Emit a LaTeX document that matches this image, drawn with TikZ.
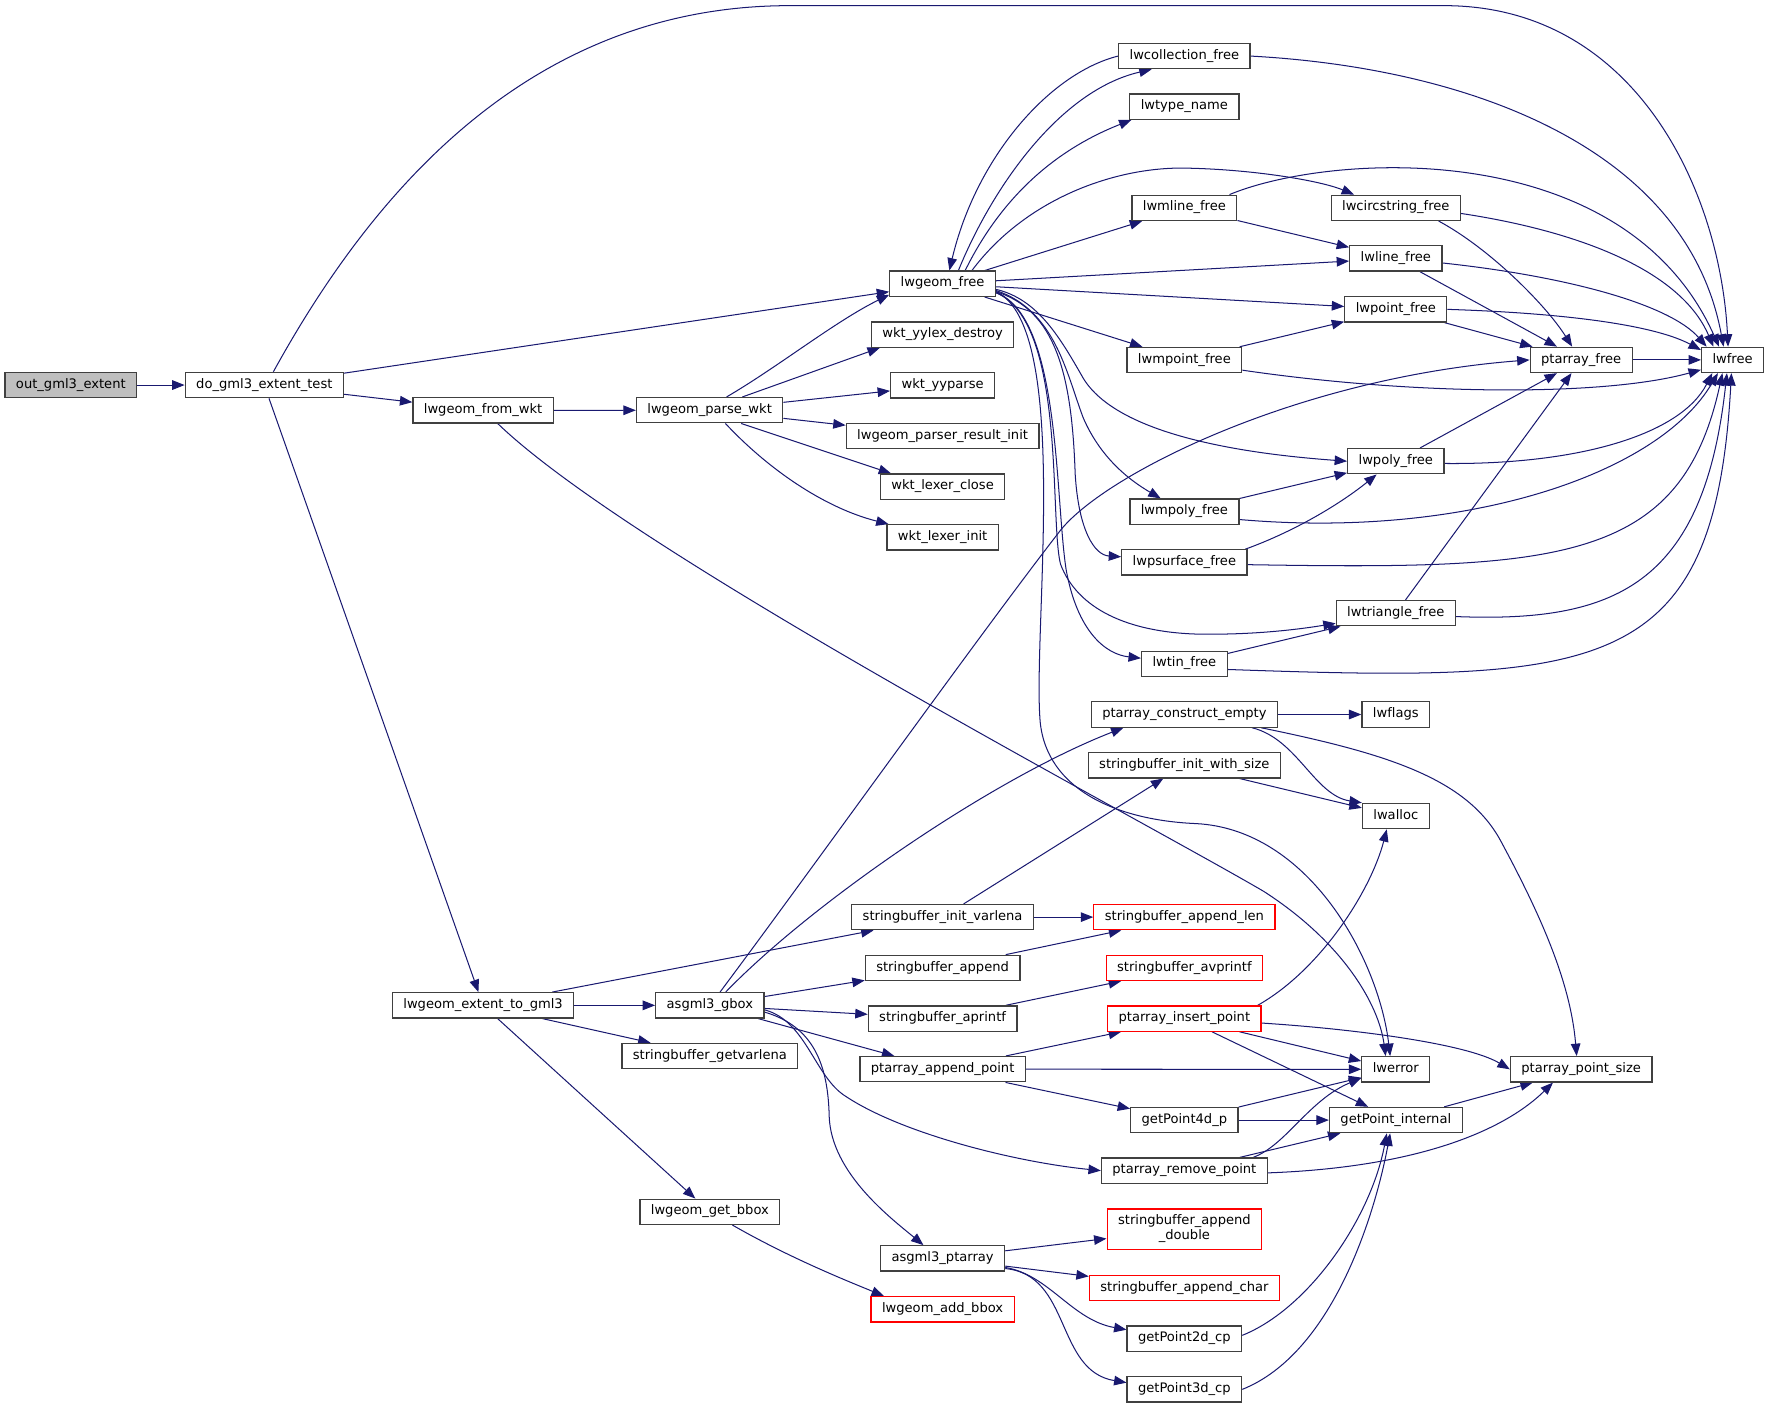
\documentclass[tikz,border=0pt]{standalone}
\usepackage{fontspec}
\setmainfont{DejaVu Sans}[Ligatures=NoCommon]
\usetikzlibrary{arrows.meta,backgrounds}
\definecolor{callblue}{RGB}{25,25,112}
\definecolor{boxline}{RGB}{64,64,64}
\definecolor{rootfill}{RGB}{191,191,191}

\begin{document}
\begin{tikzpicture}[x=1pt,y=-1pt,
  func/.style={draw=boxline,line width=1.1pt,fill=white,inner xsep=9.7pt,inner ysep=0pt,
    minimum height=22.4pt,font=\fontsize{11.6}{13.9}\selectfont,execute at begin node=\strut},
  rootfunc/.style={func,fill=rootfill},
  undoc/.style={func,draw=red},
  call/.style={draw=callblue,line width=0.9pt,-{Triangle[length=11pt,width=8.5pt]}}]
  \useasboundingbox (0,0) rectangle (1568,1248);

  \node[rootfunc] (outext) at (62.8,341.3) {out\_gml3\_extent};
  \node[func] (dotest) at (234.3,341.3) {do\_gml3\_extent\_test};
  \node[func] (fromwkt) at (428.2,363.7) {lwgeom\_from\_wkt};
  \node[func] (parsewkt) at (629,363.6) {lwgeom\_parse\_wkt};
  \node[func] (gfree) at (835.5,251.5) {lwgeom\_free};
  \node[func] (yylexdestroy) at (835.5,296.5) {wkt\_yylex\_destroy};
  \node[func] (yyparse) at (835.5,341.5) {wkt\_yyparse};
  \node[func] (resultinit) at (835.5,386.4) {lwgeom\_parser\_result\_init};
  \node[func] (lexclose) at (835.5,431.4) {wkt\_lexer\_close};
  \node[func] (lexinit) at (835.5,476.3) {wkt\_lexer\_init};
  \node[func] (collfree) at (1049.8,49.7) {lwcollection\_free};
  \node[func] (typename) at (1049.8,94.5) {lwtype\_name};
  \node[func] (mlinefree) at (1049.8,184.2) {lwmline\_free};
  \node[func] (circfree) at (1237.2,184.2) {lwcircstring\_free};
  \node[func] (linefree) at (1237.2,229.1) {lwline\_free};
  \node[func] (pointfree) at (1237.2,274.2) {lwpoint\_free};
  \node[func] (mpointfree) at (1049.8,319.1) {lwmpoint\_free};
  \node[func] (ptfree) at (1401.5,319) {ptarray\_free};
  \node[func] (lwfree) at (1535.7,319) {lwfree};
  \node[func] (polyfree) at (1237.2,408.8) {lwpoly\_free};
  \node[func] (mpolyfree) at (1049.8,453.5) {lwmpoly\_free};
  \node[func] (psurffree) at (1049.8,498.5) {lwpsurface\_free};
  \node[func] (trifree) at (1237.2,543.5) {lwtriangle\_free};
  \node[func] (tinfree) at (1049.8,588.4) {lwtin\_free};
  \node[func] (ptconstruct) at (1049.8,633.3) {ptarray\_construct\_empty};
  \node[func] (lwflags) at (1237.2,633.3) {lwflags};
  \node[func] (sbinitsize) at (1049.8,678.3) {stringbuffer\_init\_with\_size};
  \node[func] (lwalloc) at (1237.2,723.3) {lwalloc};
  \node[func] (sbinitvar) at (835.5,812.9) {stringbuffer\_init\_varlena};
  \node[undoc] (sbappendlen) at (1049.8,812.9) {stringbuffer\_append\_len};
  \node[func] (sbappend) at (835.5,857.9) {stringbuffer\_append};
  \node[undoc] (sbavprintf) at (1049.8,857.9) {stringbuffer\_avprintf};
  \node[func] (exttogml) at (428.2,891.1) {lwgeom\_extent\_to\_gml3};
  \node[func] (gbox) at (629.2,891.1) {asgml3\_gbox};
  \node[func] (sbaprintf) at (835.5,902.8) {stringbuffer\_aprintf};
  \node[undoc] (ptinsert) at (1049.8,902.8) {ptarray\_insert\_point};
  \node[func] (sbgetvar) at (629.2,936) {stringbuffer\_getvarlena};
  \node[func] (ptappend) at (835.5,947.7) {ptarray\_append\_point};
  \node[func] (lwerror) at (1237.2,947.8) {lwerror};
  \node[func] (ptpointsize) at (1401.5,947.8) {ptarray\_point\_size};
  \node[func] (gp4d) at (1049.8,992.8) {getPoint4d\_p};
  \node[func] (gpinternal) at (1237.2,992.8) {getPoint\_internal};
  \node[func] (ptremove) at (1049.8,1037.6) {ptarray\_remove\_point};
  \node[func] (getbbox) at (629.2,1074.1) {lwgeom\_get\_bbox};
  \node[undoc,align=center,minimum height=35.8pt,font=\fontsize{11.6}{12.7}\selectfont] (sbdouble) at (1049.8,1089.5) {stringbuffer\_append\\\_double};
  \node[func] (ptarrgml) at (835.5,1115.4) {asgml3\_ptarray};
  \node[undoc] (sbchar) at (1049.8,1141.7) {stringbuffer\_append\_char};
  \node[undoc] (addbbox) at (835.5,1160.5) {lwgeom\_add\_bbox};
  \node[func] (gp2d) at (1049.8,1186.6) {getPoint2d\_cp};
  \node[func] (gp3d) at (1049.8,1231.5) {getPoint3d\_cp};

  \begin{scope}[on background layer]
  \draw[call] (outext) -- (dotest);
  \draw[call] ([xshift=8pt]dotest.north) .. controls (330,170) and (470,5) .. (700,5) -- (1280,5) .. controls (1450,5) and (1525,170) .. ([xshift=-4pt]lwfree.north);
  \draw[call] (dotest) -- (gfree);
  \draw[call] (dotest) -- (fromwkt);
  \draw[call] (dotest) -- (exttogml);
  \draw[call] (fromwkt) -- (parsewkt);
  \draw[call] ([xshift=13pt]fromwkt.south) .. controls (560,490) and (1000,720) .. (1120,790) .. controls (1190,835) and (1222,890) .. ([xshift=-9pt]lwerror.north);
  \draw[call] ([xshift=15pt]parsewkt.north) .. controls (690,325) and (740,285) .. ([yshift=2pt]gfree.south west);
  \draw[call] ([xshift=29pt]parsewkt.north) -- ([xshift=8pt]yylexdestroy.south west);
  \draw[call] (parsewkt) -- (yyparse);
  \draw[call] (parsewkt) -- (resultinit);
  \draw[call] ([xshift=28pt]parsewkt.south) -- ([xshift=10pt]lexclose.north west);
  \draw[call] ([xshift=14pt]parsewkt.south) .. controls (680,415) and (730,450) .. ([xshift=2pt]lexinit.north west);

  \draw[call] ([xshift=14pt]gfree.north) .. controls (880,165) and (940,80) .. ([xshift=-29pt]collfree.south);
  \draw[call] (collfree.west) .. controls (930,65) and (865,140) .. ([xshift=6pt]gfree.north);
  \draw[call] ([xshift=20pt]gfree.north) .. controls (885,180) and (930,135) .. ([xshift=2pt]typename.south west);
  \draw[call] ([xshift=26pt]gfree.north) .. controls (910,175) and (990,148) .. (1050,149) .. controls (1110,150) and (1170,160) .. ([xshift=-37pt]circfree.north);
  \draw[call] (gfree) -- (mlinefree);
  \draw[call] (gfree) -- (linefree);
  \draw[call] (gfree) -- (pointfree);
  \draw[call] (gfree) -- (mpointfree);
  \draw[call] ([yshift=-5pt]gfree.east) .. controls (920,265) and (940,300) .. (960,335) .. controls (990,385) and (1100,402) .. (polyfree.west);
  \draw[call] ([yshift=-6pt]gfree.east) .. controls (935,275) and (945,330) .. (960,370) .. controls (975,405) and (1000,425) .. ([xshift=-21pt]mpolyfree.north);
  \draw[call] ([yshift=-7pt]gfree.east) .. controls (935,275) and (950,330) .. (953,420) .. controls (956,470) and (970,492) .. ([yshift=5pt]psurffree.west);
  \draw[call] ([yshift=-8pt]gfree.east) .. controls (945,285) and (930,460) .. (940,500) .. controls (955,540) and (1000,560) .. (1060,562) .. controls (1110,563) and (1150,558) .. ([yshift=-9pt]trifree.west);
  \draw[call] ([yshift=-8pt]gfree.east) .. controls (940,280) and (935,440) .. (945,505) .. controls (955,560) and (980,580) .. ([yshift=5pt]tinfree.west);
  \draw[call] ([yshift=-7pt]gfree.east) .. controls (950,290) and (915,560) .. (922,640) .. controls (928,700) and (990,727) .. (1060,730) .. controls (1160,735) and (1222,850) .. ([xshift=-5pt]lwerror.north);

  \draw[call] (collfree.east) .. controls (1300,60) and (1495,130) .. ([xshift=-8pt]lwfree.north);
  \draw[call] ([xshift=40pt]mlinefree.north) .. controls (1180,135) and (1440,120) .. ([xshift=-12pt]lwfree.north);
  \draw[call] (mlinefree) -- (linefree);
  \draw[call] ([yshift=-5pt]circfree.east) .. controls (1400,205) and (1490,240) .. ([xshift=-17pt]lwfree.north);
  \draw[call] ([xshift=38pt]circfree.south) .. controls (1320,220) and (1370,270) .. ([xshift=-8pt]ptfree.north);
  \draw[call] ([yshift=-4pt]linefree.east) .. controls (1390,245) and (1480,270) .. ([xshift=-23pt]lwfree.north);
  \draw[call] (linefree) -- (ptfree);
  \draw[call] (pointfree.east) .. controls (1400,278) and (1470,290) .. ([yshift=-3pt]lwfree.north west);
  \draw[call] (pointfree) -- (ptfree);
  \draw[call] (mpointfree) -- (pointfree);
  \draw[call] ([yshift=-9pt]mpointfree.east) .. controls (1250,350) and (1420,352) .. ([yshift=3pt]lwfree.south west);
  \draw[call] (ptfree) -- (lwfree);
  \draw[call] (polyfree) -- (ptfree);
  \draw[call] ([yshift=-2pt]polyfree.east) .. controls (1400,412) and (1490,385) .. ([xshift=-18pt]lwfree.south);
  \draw[call] (mpolyfree) -- (polyfree);
  \draw[call] ([yshift=-7pt]mpolyfree.east) .. controls (1300,478) and (1470,420) .. ([xshift=-13pt]lwfree.south);
  \draw[call] ([xshift=-2pt]psurffree.north east) .. controls (1150,470) and (1190,445) .. ([xshift=-17pt]polyfree.south);
  \draw[call] ([yshift=-2pt]psurffree.east) .. controls (1380,505) and (1490,500) .. ([xshift=-9pt]lwfree.south);
  \draw[call] (trifree) -- (ptfree);
  \draw[call] ([yshift=-3pt]trifree.east) .. controls (1430,552) and (1510,520) .. ([xshift=-5pt]lwfree.south);
  \draw[call] (tinfree) -- (trifree);
  \draw[call] ([yshift=-5pt]tinfree.east) .. controls (1420,605) and (1520,600) .. ([xshift=-1pt]lwfree.south);

  \draw[call] (exttogml) -- (sbinitvar);
  \draw[call] (exttogml) -- (gbox);
  \draw[call] (exttogml) -- (sbgetvar);
  \draw[call] (exttogml) -- (getbbox);
  \draw[call] ([xshift=9pt]gbox.north) .. controls (720,770) and (870,560) .. (940,470) .. controls (980,420) and (1150,335) .. (ptfree.west);
  \draw[call] ([xshift=14pt]gbox.north) .. controls (720,800) and (880,690) .. ([xshift=-54pt]ptconstruct.south);
  \draw[call] (gbox) -- (sbappend);
  \draw[call] (gbox) -- (sbaprintf);
  \draw[call] (gbox) -- (ptappend);
  \draw[call] ([yshift=-4pt]gbox.east) .. controls (715,905) and (722,955) .. (750,972) .. controls (800,1005) and (900,1030) .. (ptremove.west);
  \draw[call] ([yshift=-6pt]gbox.east) .. controls (722,910) and (734,945) .. (735,990) .. controls (737,1040) and (790,1080) .. ([xshift=-17pt]ptarrgml.north);

  \draw[call] (ptconstruct) -- (lwflags);
  \draw[call] ([xshift=60pt]ptconstruct.south) .. controls (1150,655) and (1165,705) .. (lwalloc.north west);
  \draw[call] ([xshift=68pt]ptconstruct.south) .. controls (1230,668) and (1300,690) .. (1330,745) .. controls (1365,810) and (1392,870) .. ([xshift=-4pt]ptpointsize.north);
  \draw[call] (sbinitsize) -- (lwalloc);
  \draw[call] (sbinitvar) -- (sbinitsize);
  \draw[call] (sbinitvar) -- (sbappendlen);
  \draw[call] (sbappend) -- (sbappendlen);
  \draw[call] (sbaprintf) -- (sbavprintf);
  \draw[call] (ptappend) -- (ptinsert);
  \draw[call] (ptappend) -- (lwerror);
  \draw[call] (ptappend) -- (gp4d);
  \draw[call] ([xshift=65pt]ptinsert.north) .. controls (1170,860) and (1215,790) .. ([xshift=-8pt]lwalloc.south);
  \draw[call] ([yshift=-4pt]ptinsert.east) .. controls (1200,912) and (1300,925) .. (ptpointsize.west);
  \draw[call] (ptinsert) -- (lwerror);
  \draw[call] (ptinsert) -- (gpinternal);
  \draw[call] (gp4d) -- (lwerror);
  \draw[call] (gp4d) -- (gpinternal);
  \draw[call] (gpinternal) -- (ptpointsize);
  \draw[call] ([xshift=61pt]ptremove.north) .. controls (1140,1015) and (1160,975) .. ([yshift=4pt]lwerror.south west);
  \draw[call] (ptremove) -- (gpinternal);
  \draw[call] ([yshift=-2pt]ptremove.east) .. controls (1250,1035) and (1330,1005) .. ([xshift=-25pt]ptpointsize.south);
  \draw[call] ([xshift=20pt]getbbox.south) .. controls (700,1115) and (750,1135) .. ([xshift=-52pt]addbbox.north);
  \draw[call] (ptarrgml) -- (sbdouble);
  \draw[call] (ptarrgml) -- (sbchar);
  \draw[call] ([yshift=-8pt]ptarrgml.east) .. controls (930,1130) and (950,1170) .. ([yshift=8pt]gp2d.west);
  \draw[call] ([yshift=-9pt]ptarrgml.east) .. controls (950,1130) and (935,1215) .. ([yshift=6pt]gp3d.west);
  \draw[call] ([yshift=3pt]gp2d.east) .. controls (1160,1160) and (1215,1080) .. ([xshift=-8pt]gpinternal.south);
  \draw[call] (gp3d.east) .. controls (1180,1200) and (1218,1080) .. ([xshift=-5pt]gpinternal.south);
  \end{scope}
\end{tikzpicture}
\end{document}
